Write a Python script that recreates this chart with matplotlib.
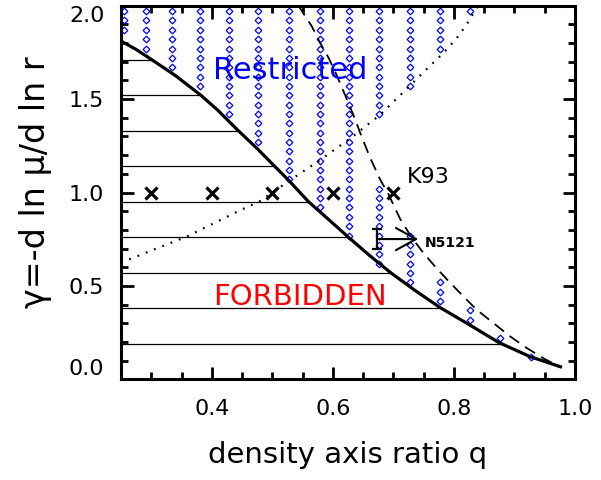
import numpy as np
import matplotlib
matplotlib.use("Agg")
import matplotlib.pyplot as plt

# solid boundary (forbidden region below)
solid_q = [0.25, 0.275, 0.301, 0.34, 0.382, 0.41, 0.444, 0.475, 0.504, 0.53, 0.56,
           0.595, 0.626, 0.66, 0.696, 0.735, 0.777, 0.827, 0.874, 0.926, 0.976]
solid_g = [1.81, 1.765, 1.71, 1.625, 1.52, 1.44, 1.33, 1.235, 1.14, 1.055, 0.95,
           0.85, 0.76, 0.665, 0.57, 0.478, 0.385, 0.29, 0.198, 0.122, 0.068]

# dashed curve
dash_q = [0.543, 0.565, 0.579, 0.593, 0.606, 0.623, 0.637, 0.645, 0.661, 0.678, 0.692,
          0.711, 0.73, 0.75, 0.77, 0.79, 0.816, 0.838, 0.866, 0.893, 0.921, 0.948, 0.975]
dash_g = [2.0, 1.89, 1.80, 1.72, 1.63, 1.50, 1.39, 1.32, 1.19, 1.07, 0.99,
          0.86, 0.76, 0.675, 0.60, 0.53, 0.443, 0.372, 0.30, 0.23, 0.167, 0.113, 0.068]

# dotted curve
dot_q = [0.25, 0.359, 0.447, 0.48, 0.529, 0.579, 0.629, 0.678, 0.708, 0.733,
         0.755, 0.783, 0.805, 0.821, 0.838]
dot_g = [0.625, 0.765, 0.905, 0.955, 1.065, 1.174, 1.29, 1.415, 1.51, 1.59,
         1.66, 1.747, 1.827, 1.898, 1.99]

# horizontal hatching levels of the forbidden region
hatch_g = [0.19, 0.38, 0.57, 0.76, 0.95, 1.14, 1.33, 1.52, 1.71]

# blue diamond columns: q, lowest and highest gamma of each run (step 0.05)
diam_q  = [0.255, 0.292, 0.335, 0.381, 0.428, 0.477, 0.527, 0.578, 0.627,
           0.677, 0.677, 0.727, 0.727, 0.777, 0.777, 0.827, 0.827, 0.876, 0.927]
diam_lo = [1.87, 1.77, 1.67, 1.57, 1.42, 1.27, 1.07, 0.92, 0.77,
           1.42, 0.62, 1.57, 0.52, 1.77, 0.42, 1.97, 0.32, 0.22, 0.12]
diam_hi = [1.97, 1.97, 1.97, 1.97, 1.97, 1.97, 1.97, 1.97, 1.97,
           1.97, 1.02, 1.97, 0.77, 1.97, 0.52, 1.97, 0.37, 0.22, 0.12]

# model crosses
cross_q = [0.3, 0.4, 0.5, 0.6, 0.7]
cross_g = [1.0, 1.0, 1.0, 1.0, 1.0]

# N5121 constraint
n5121_q, n5121_g, n5121_err = 0.673, 0.751, 0.053
n5121_tip = 0.741

fig = plt.figure(figsize=(6.01, 4.80), dpi=100)
ax = fig.add_axes([0.2013, 0.2094, 0.7554, 0.7791])

# hatching lines up to the solid curve
sq = np.array(solid_q)[::-1]
sg = np.array(solid_g)[::-1]
for g in hatch_g:
    qend = np.interp(g, sg, sq)
    ax.plot([0.25, qend], [g, g], color="k", lw=0.9)

# diamonds
for q, lo, hi in zip(diam_q, diam_lo, diam_hi):
    gg = np.arange(lo, hi + 0.001, 0.05)
    ax.plot(np.full_like(gg, q), gg, ls="none", marker="D", ms=3.4,
            mfc="white", mec="blue", mew=0.9)

ax.plot(solid_q, solid_g, color="k", lw=2.3, solid_joinstyle="round")
ax.plot(dash_q, dash_g, color="k", lw=1.3, dashes=(6.5, 4))
ax.plot(dot_q, dot_g, color="k", lw=1.6, ls=(0, (0.8, 3.2)))

ax.plot(cross_q, cross_g, ls="none", marker="x", ms=8, mew=2.3, color="k")

ax.errorbar([n5121_q], [n5121_g], yerr=n5121_err, fmt="none", ecolor="k",
            elinewidth=1.6, capsize=3.3, capthick=1.6)
ax.annotate("", xy=(n5121_tip, n5121_g), xytext=(n5121_q, n5121_g),
            arrowprops=dict(arrowstyle="->,head_length=1.45,head_width=0.8",
                            lw=1.5, color="k", shrinkA=0, shrinkB=0,
                            mutation_scale=10))

ax.text(0.752, 0.731, "N5121", fontsize=10, fontweight="bold", va="center", ha="left")
ax.text(0.723, 1.05, "K93", fontsize=16, va="baseline", ha="left")
ax.text(0.402, 1.605, "Restricted", fontsize=22, color="blue", va="baseline", ha="left")
ax.text(0.402, 0.40, "FORBIDDEN", fontsize=21, color="red", va="baseline", ha="left")

ax.set_xlim(0.25, 1.0)
ax.set_ylim(0.0, 2.0)
ax.set_xticks([0.4, 0.6, 0.8, 1.0])
ax.set_xticklabels(["0.4", "0.6", "0.8", "1.0"])
ax.set_yticks([0.0, 0.5, 1.0, 1.5, 2.0])
ax.set_yticklabels(["0.0", "0.5", "1.0", "1.5", "2.0"])
ax.set_xticks(np.arange(0.25, 1.0001, 0.05), minor=True)
ax.set_yticks(np.arange(0.0, 2.0001, 0.1), minor=True)
ax.tick_params(which="both", direction="in", top=True, right=True, width=2, labelsize=16)
ax.tick_params(which="major", length=9)
ax.tick_params(axis="x", which="major", pad=14)
ax.tick_params(axis="y", which="major", pad=12)
ax.tick_params(which="minor", length=5)
for s in ax.spines.values():
    s.set_linewidth(2.2)

ylabs = ax.get_yticklabels()
ylabs[0].set_va("bottom")
ylabs[-1].set_va("top")

ax.set_xlabel("density axis ratio q", fontsize=21, va="center")
ax.xaxis.set_label_coords(0.5, -0.202)
ax.set_ylabel("γ=-d ln μ/d ln r", fontsize=24, va="center")
ax.yaxis.set_label_coords(-0.189, 0.528)

fig.savefig("out.png", dpi=100)
